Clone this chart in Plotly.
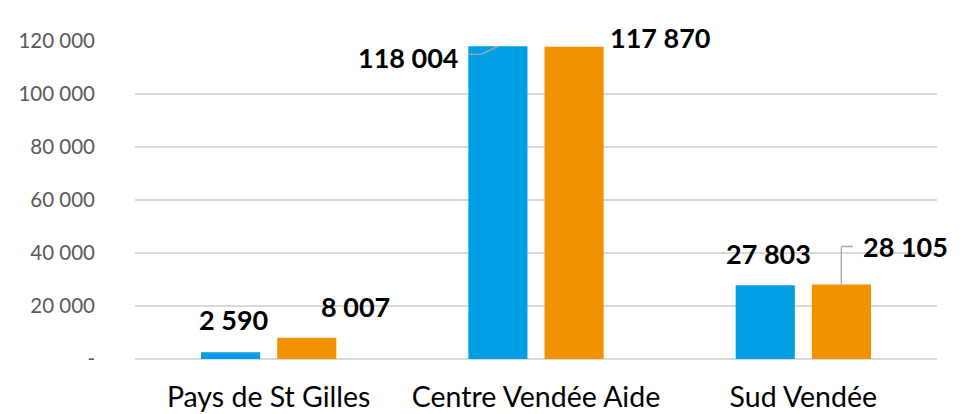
import plotly.graph_objects as go

categories = ["Pays de St Gilles", "Centre Vendée Aide", "Sud Vendée"]
series_a = [2590, 118004, 27803]
series_b = [8007, 117870, 28105]
label_a = ["2 590", "118 004", "27 803"]
label_b = ["8 007", "117 870", "28 105"]
tick_vals = [0, 20000, 40000, 60000, 80000, 100000, 120000]
tick_text = ["-", "20 000", "40 000", "60 000", "80 000", "100 000", "120 000"]

BLUE = "#009FE3"
ORANGE = "#F39200"
LINE = "#A6A6A6"

fig = go.Figure()
fig.add_trace(go.Bar(x=categories, y=series_a, marker=dict(color=BLUE, line=dict(width=0)), name="A"))
fig.add_trace(go.Bar(x=categories, y=series_b, marker=dict(color=ORANGE, line=dict(width=0)), name="B"))

lab_font = dict(family="Lato", size=27, color="#000000", weight="bold")

# label offsets (pixels) relative to category centre / bar top
off_a = [(-35, 33), (-128, -11), (-35, 32)]
off_b = [(87, 31), (124, 9), (102, 38)]
for i, c in enumerate(categories):
    fig.add_annotation(x=c, y=series_a[i], text="<b>%s</b>" % label_a[i], showarrow=False,
                       xshift=off_a[i][0], yshift=off_a[i][1], yanchor="middle", xanchor="center",
                       font=lab_font)
    fig.add_annotation(x=c, y=series_b[i], text="<b>%s</b>" % label_b[i], showarrow=False,
                       xshift=off_b[i][0], yshift=off_b[i][1], yanchor="middle", xanchor="center",
                       font=lab_font)

def seg(x, y, xs, ys, ax, ay):
    fig.add_annotation(x=x, y=y, xshift=xs, yshift=ys, text="", showarrow=True,
                       arrowhead=0, arrowwidth=1.3, arrowcolor=LINE, ax=ax, ay=ay,
                       standoff=0, startstandoff=0, borderpad=0)

# leader for 118 004
seg(categories[1], series_a[1], -38, 0, -17, 8)
seg(categories[1], series_a[1], -55, -8, -12, 0)
# leader for 28 105
seg(categories[2], series_b[2], 38, 0, 0, -38)
seg(categories[2], series_b[2], 38, 38, 12, 0)

fig.update_layout(
    width=976, height=414,
    margin=dict(l=135, r=39, t=41, b=55),
    paper_bgcolor="white", plot_bgcolor="white",
    barmode="group", bargap=0.43, bargroupgap=0.224,
    showlegend=False,
    font=dict(family="Lato"),
    xaxis=dict(showgrid=False, showline=False, ticks="", automargin=False,
               range=[-0.5, 2.5],
               tickfont=dict(family="Lato", size=28.5, color="#000000"),
               ticklabelstandoff=18),
    yaxis=dict(range=[0, 120000], tickvals=tick_vals, ticktext=tick_text, automargin=False,
               showgrid=True, gridcolor="#D9D9D9", gridwidth=1.5,
               zeroline=True, zerolinecolor="#D9D9D9", zerolinewidth=1.5,
               showline=False, ticks="",
               tickfont=dict(family="Lato", size=20.5, color="#595959"),
               ticklabelstandoff=39),
)

fig.write_html("out.html", config={"displayModeBar": False},
               post_script="document.body.style.margin='0';document.body.style.overflow='hidden';")
